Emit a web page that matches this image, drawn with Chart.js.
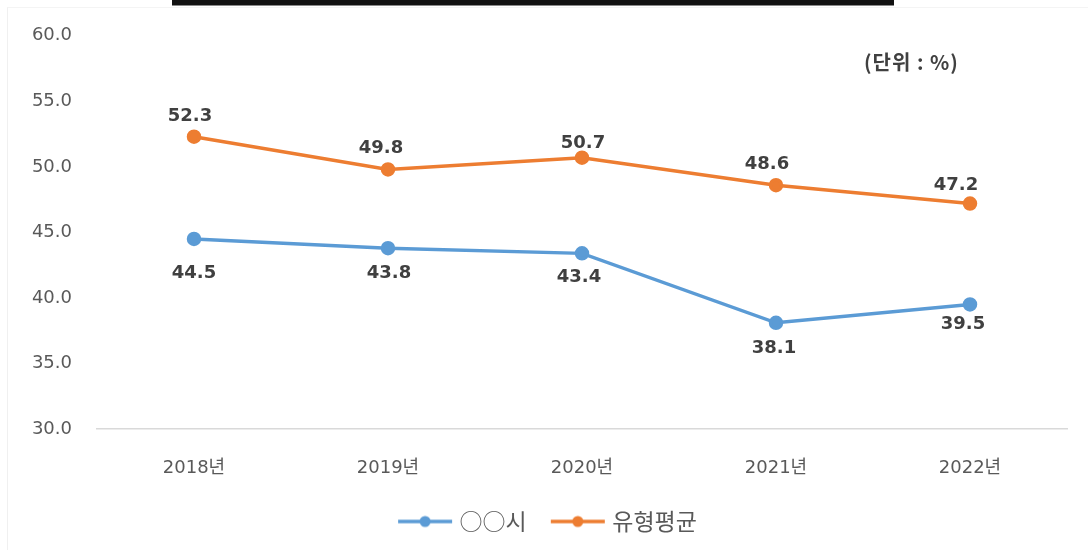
<!DOCTYPE html>
<html>
<head>
<meta charset="utf-8">
<script src="https://cdn.jsdelivr.net/npm/chart.js@4.4.1/dist/chart.umd.min.js"></script>
<style>
    html, body { margin: 0; padding: 0; background: #fff; }
    #wrap { position: relative; width: 1088px; height: 550px; }
    #topbar { position: absolute; left: 172px; top: 0; width: 722px; height: 5px; background: #111; border-bottom: 1px solid #888; }
    #frame { position: absolute; left: 7px; top: 7px; width: 1081px; height: 543px; border-left: 1px solid #f0f0f0; border-top: 1px solid #f4f4f4; }
    #unit { position: absolute; left: 864px; top: 47px; font: bold 20px 'Noto Sans CJK KR', sans-serif; letter-spacing: 1px; color: #404040; }
</style>
</head>
<body>
<div id="wrap">
    <div id="frame"></div>
    <div id="topbar"></div>
    <canvas id="myChart" width="1088" height="550"></canvas>
    <div id="unit">(단위 : %)</div>
</div>
<script>
const years = ['2018년', '2019년', '2020년', '2021년', '2022년'];
const cityValues = [44.5, 43.8, 43.4, 38.1, 39.5];
const typeAvgValues = [52.3, 49.8, 50.7, 48.6, 47.2];
const seriesNames = ['○○시', '유형평균'];

const blue = '#5B9BD5';
const orange = '#ED7D31';
const tickFont = "'DejaVu Sans', 'Noto Sans CJK KR', sans-serif";
const korFont = "'Noto Sans CJK KR', sans-serif";

// 범례 아이콘: 선 + 점
function legendIcon(color) {
    const c = document.createElement('canvas');
    c.width = 56;
    c.height = 14;
    const g = c.getContext('2d');
    g.strokeStyle = color;
    g.lineWidth = 3.5;
    g.beginPath();
    g.moveTo(1, 7);
    g.lineTo(55, 7);
    g.stroke();
    g.fillStyle = color;
    g.beginPath();
    g.arc(28, 7, 5.5, 0, Math.PI * 2);
    g.fill();
    return c;
}

// 데이터 레이블 위치 (점 기준)
const labelOffsets = [
    { dx: [0, 1, -3, -2, -7], dy: [34, 25, 24, 25, 20] },
    { dx: [-4, -7, 1, -9, -14], dy: [-20, -21, -14, -21, -18] }
];

const valueLabels = {
    id: 'valueLabels',
    afterDatasetsDraw(chart) {
        const ctx = chart.ctx;
        ctx.save();
        ctx.font = 'bold 18px ' + tickFont;
        ctx.fillStyle = '#404040';
        ctx.textAlign = 'center';
        ctx.textBaseline = 'middle';
        chart.data.datasets.forEach((ds, i) => {
            chart.getDatasetMeta(i).data.forEach((pt, j) => {
                const off = labelOffsets[i];
                ctx.fillText(ds.data[j].toFixed(1), pt.x + off.dx[j], pt.y + off.dy[j]);
            });
        });
        ctx.restore();
    }
};

const ctx = document.getElementById('myChart').getContext('2d');
new Chart(ctx, {
    type: 'line',
    data: {
        labels: years,
        datasets: [{
            label: seriesNames[0],
            data: cityValues,
            borderColor: blue,
            backgroundColor: blue,
            borderWidth: 3.5,
            pointRadius: 5.5,
            pointHoverRadius: 5.5,
            tension: 0
        }, {
            label: seriesNames[1],
            data: typeAvgValues,
            borderColor: orange,
            backgroundColor: orange,
            borderWidth: 3.5,
            pointRadius: 5.5,
            pointHoverRadius: 5.5,
            tension: 0
        }]
    },
    options: {
        responsive: false,
        animation: false,
        layout: { padding: { left: 32, right: 21, top: 34, bottom: 7 } },
        plugins: {
            tooltip: { enabled: false },
            legend: {
                position: 'bottom',
                labels: {
                    usePointStyle: true,
                    pointStyleWidth: 46,
                    padding: 28,
                    color: '#595959',
                    font: { family: korFont, size: 23 },
                    generateLabels(chart) {
                        const items = Chart.defaults.plugins.legend.labels.generateLabels(chart);
                        items.forEach((it, i) => { it.pointStyle = legendIcon(i === 0 ? blue : orange); });
                        return items;
                    }
                }
            }
        },
        scales: {
            x: {
                offset: true,
                grid: { display: false, drawTicks: false },
                border: { display: true, color: '#d9d9d9', width: 1.5 },
                afterFit(scale) { scale.height = 53; },
                ticks: { color: '#595959', font: { family: tickFont, size: 18 }, padding: 29 }
            },
            y: {
                min: 30,
                max: 60,
                grid: { display: false, drawTicks: false },
                border: { display: false },
                afterFit(scale) { scale.width = 65; },
                ticks: {
                    stepSize: 5,
                    padding: 25,
                    color: '#595959',
                    font: { family: tickFont, size: 18 },
                    callback: v => v.toFixed(1)
                }
            }
        }
    },
    plugins: [valueLabels]
});
</script>
</body>
</html>
